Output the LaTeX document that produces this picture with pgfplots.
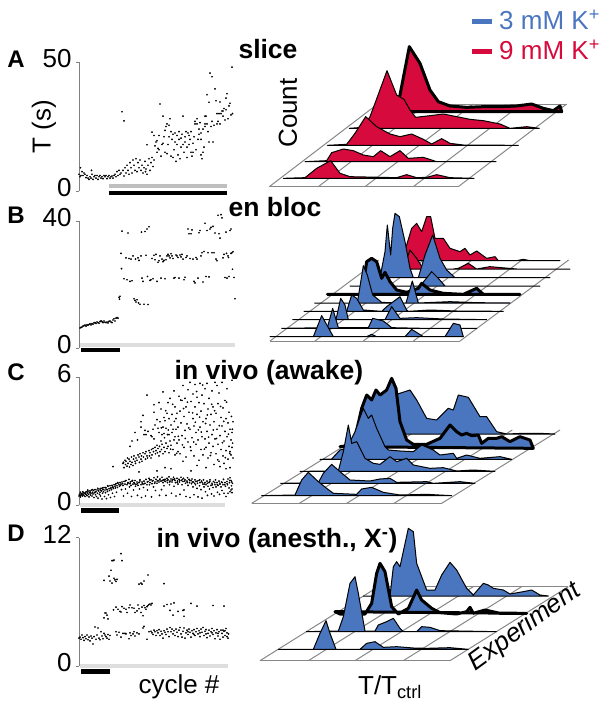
\documentclass[border=0pt]{standalone}
\usepackage{fontspec}
\setmainfont{Liberation Sans}
\usepackage{pgfplots}
\pgfplotsset{compat=1.18}
\definecolor{blu}{RGB}{73,118,190}
\definecolor{rd}{RGB}{214,10,60}
\definecolor{gridc}{RGB}{135,135,135}
\newcommand{\lab}{\fontsize{26}{26}\selectfont}
\newcommand{\ttl}{\fontsize{26.5}{26.5}\selectfont\bfseries}
\pgfplotsset{
  panel/.style={scale only axis, width=155pt, xmin=0, xmax=155, clip=false,
    axis y line*=left, axis x line=none, axis line style={gray, line width=0.8pt},
    tick style={gray, line width=0.6pt}, major tick length=3pt, tick align=outside,
    /pgf/number format/assume math mode=true,
    yticklabel style={font=\lab, yshift=3.5pt, xshift=-1pt}},
  dots/.style={only marks, mark=*, mark size=0.65pt, black, mark options={draw=none, fill=black!85}},
  gbar/.style={line width=4pt, black!13},
  kbar/.style={line width=4.5pt, black},
  ridge/.style={scale only axis, hide axis, clip=false, y dir=reverse, ymin=0, xmin=0},
  gl/.style={gridc, line width=1pt},
  rb/.style={fill=blu, draw=black, line width=1pt, line join=round},
  rr/.style={fill=rd, draw=black, line width=1pt, line join=round},
  bb/.style={fill=blu, draw=black, line width=3pt, line join=round},
  br/.style={fill=rd, draw=black, line width=3pt, line join=round},
}
\begin{document}
\begin{tikzpicture}
\path[use as bounding box] (0,0) rectangle (614pt,713pt);

% ---- scatter panels
\begin{axis}[panel, at={(79pt,522pt)}, height=129pt, ymin=0, ymax=50, ytick={0,50}]
\addplot[dots] coordinates {(0,6.5)(1,5.5)(1.5,9)(2,6)(3,7.5)(4,6)(5,7)(6,6.5)(7,5.2)(8,6)(9,5)(10,4.5)(11,5.5)(12,5)(12.5,8)(13,6.5)(14,4.5)(15,5.5)(16,6)(17,5)(18,6)(19,4.5)(20,5.5)(21,6)(22,5)(23,5.5)(24,4.8)(25,6)(26,5.5)(27,6)(28,4.8)(29,5.5)(30,6)(31,5)(32,5.5)(33,5.8)(34,5)(35,6)(36,6.5)(37,5.5)(38,7.5)(39,6)(40,8)(41,6.5)(42,7)(43,30.7)(45,27.2)(44,8)(45,5.8)(46,9)(47,7)(48,10)(49,8)(50,6.5)(51,11)(52,9)(53,7)(54,12)(55,10)(56,8)(57,12.5)(58,7.5)(59,11)(60,9)(61,12)(62,8)(63,10)(64,7)(65,9)(66,11.5)(66.5,7.5)(67,8.5)(68,6.5)(69,10)(70,12.5)(71,8)(72,11)(73,13)(74,9.5)(75,12)
(68,17.9)(73,22.8)(75,21.5)(76,17.5)(77,19)(78,15)(79,16.5)(80,21.5)(81,33.7)(82,13.5)(83,18)(84,29)(85,21)(86,15)(87,25)(88,14.5)(89,18)(90,25.5)(91,28)(92,13.5)(93,20)(94,13)(95,16)(96,19)(97,11.5)(98,21.5)(99,14)(100,20)(101,12.5)(102,17)(103,22)(104,29)(105,15)(106,19)(107,23)(108,13)(109,22.5)(110,18)(111,20)(112,15)(113,13.5)(114,18.5)(115,21)(116,27)(117,16)(118,28)(119,20)(120,22)(121,26.5)(122,20)(123,12.5)(124,15)(125,17)(126,25)(127,29)(128,37.3)(129,23)(130,34.4)(131,45.7)(133,44.3)
(78,19.5)(80,16)(84,18.5)(86,23.5)(88,26)(90,21)(92,23)(94,22)(96,22.5)(98,18)(100,23)(102,20.5)(104,18)(106,21)(108,17)(110,21.5)(112,23)(114,15)(116,26)(118,26)(120,24)(122,14)(124,24)(126,29)(128,26)(130,19)(132,25)(134,19)(135,25.5)(136,39.6)(137,35)(138,26)(139,27)(140,30)(141,34.5)(142,30)(143,31)(144,29)(145,32)(146,27.5)(147,36)(148,37.7)(149,28)(150,33)(151,34)(152,29.5)(153,48)(153.5,30)(147,31.5)(144,31)(141,26)(138,30)(133,27)(126,26)(122,22.5)};
\addplot[line width=4pt, black!25, forget plot] coordinates {(30,1.9)(148,1.9)};
\addplot[kbar, forget plot] coordinates {(30,-0.8)(148,-0.8)};
\end{axis}

\begin{axis}[panel, at={(79pt,365pt)}, height=127pt, ymin=0, ymax=40, ytick={0,40}]
\addplot[dots] coordinates {(1,6.3)(2,6.5)(3,6.6)(4,6.9)(5,7)(6,7.2)(7,6.9)(8,7.3)(9,7.2)(10,7.4)(11,7.6)(12,7.3)(13,7.7)(14,7.5)(15,7.9)(16,8)(17,7.7)(18,8.2)(19,8)(20,7.8)(21,8.3)(22,8.6)(23,8.3)(24,8)(25,8.5)(26,8.1)(27,8)(28,8.2)(29,7.9)(30,8.4)(31,8.5)(32,8.2)(33,8)(34,8.8)(35,9.2)(36,8.5)(37,9.4)(38,9.6)(39,9.4)
(40,16)(40.5,15.4)(41,16.3)(42,29.8)(42.5,25)(43,36.8)(45,21.8)(47,28.4)(48,21.5)(49,36.2)(50,28.2)(51,21)(52,28)(53,21.2)(54,29)(55,15.5)(56,15)(56.5,28)(57,14.5)(58,15.2)(59,28.4)(59.5,14.2)(60,27.6)(61,13.8)(62,29)(62.5,36.5)(63,22)(64,21)(65,13.8)(66,36.7)(67,29.2)(68,37.5)(68.5,22.5)(69,13.7)(70,38.2)(71,21.3)(72,21.5)(73,28.2)(74,21.8)(75,29.2)(76,27.8)(77,29.5)(78,21)(79,27)(80,27.5)(81,29)(82,22)(83,28)(84,27.2)(85,27.6)(86,21.8)(87,27.8)(88,29)(89,29.5)(90,29)(91,28.4)(92,29.7)(93,29)(94,28.2)(95,22)(96,22.2)(97,29.3)(98,29)(99,28.5)(100,22)(101,29.3)(102,28.7)(103,29.5)(104,28)(105,21.5)(106,22.3)(107,28.5)(108,29)(109,37.5)(110,36)(111,28.2)(112,36)(113,37.2)(114,28)(115,21)(116,20.5)(117,28.5)(118,28)(119,22)(120,36.3)(121,37)(122,29)(123,30)(124,20.8)(125,30.4)(126,39.3)(127,22.5)(128,37)(129,30)(130,22.4)(131,37.5)(132,38)(133,30)(134,38.3)(135,30)(136,36.2)(137,28)(138,27.5)(139,41.8)(140,36)(141,34.6)(142,42)(143,41)(144,28.4)(145,29.5)(146,22.2)(147,36.5)(148,22)(149,29)(150,22.5)(151,37)(152,37.5)(153,30)(154,30.3)(155,22.2)(153.5,24.8)(156,15.5)(147.5,29.8)(149.5,28.5)(152,29.8)};
\addplot[gbar, forget plot] coordinates {(1,0.8)(155.7,0.8)};
\addplot[kbar, forget plot] coordinates {(1.7,-0.7)(40.7,-0.7)};
\end{axis}

\begin{axis}[panel, at={(79pt,208pt)}, height=128pt, ymin=0, ymax=6, ytick={0,6}]
% lower band
\addplot[dots] coordinates {(0,0.42)(0.5,0.5)(1,0.45)(1.5,0.38)(2,0.52)(2.5,0.47)(3,0.55)(3.5,0.42)(4,0.5)(4.5,0.58)(5,0.46)(5.5,0.55)(6,0.4)(6.5,0.6)(7,0.5)(7.5,0.62)(8,0.44)(8.5,0.56)(9,0.65)(9.5,0.5)(10,0.38)(10.5,0.58)(11,0.66)(11.5,0.47)(12,0.55)(12.5,0.7)(13,0.42)(13.5,0.6)(14,0.52)(14.5,0.68)(15,0.35)(15.5,0.58)(16,0.72)(16.5,0.48)(17,0.62)(17.5,0.4)(18,0.7)(18.5,0.55)(19,0.32)(19.5,0.66)(20,0.75)(20.5,0.5)(21,0.6)(21.5,0.42)(22,0.78)(22.5,0.66)(23,0.28)(23.5,0.55)(24,0.72)(24.5,0.62)(25,0.82)(25.5,0.4)(26,0.7)(26.5,0.58)(27,0.8)(27.5,0.3)(28,0.72)(28.5,0.64)(29,0.88)(29.5,0.48)(30,0.76)(30.5,0.68)(31,0.9)(31.5,0.35)(32,0.8)(32.5,0.72)(33,0.92)(33.5,0.55)(34,0.82)(34.5,0.78)(35,0.95)(35.5,0.4)(36,0.88)(36.5,0.8)(37,1.0)(37.5,0.6)(38,0.9)(38.5,0.82)(39,1.02)(40,0.95)(40.5,0.88)(41,1.05)(42,0.98)(42.5,0.72)(43,1.08)(44,0.92)(44.5,0.42)(45,1.1)(46,0.98)(46.5,0.75)(47,1.15)(48,0.95)(48.5,0.55)(49,1.05)(50,1.2)(50.5,0.85)(51,1.0)(52,0.92)(52.5,0.4)(53,1.12)(54,0.98)(54.5,0.7)(55,1.05)(56,1.15)(56.5,0.88)(57,0.96)(58,1.08)(58.5,0.45)(59,0.92)(60,1.05)(60.5,0.75)(61,1.18)(62,0.95)(62.5,0.35)(63,1.08)(64,0.98)(64.5,0.82)(65,1.12)(66,1.02)(66.5,0.42)(67,1.2)(68,0.95)(68.5,0.7)(69,1.1)(70,1.25)(70.5,0.95)(71,1.05)(72,1.18)(72.5,0.38)(73,1.0)(74,1.15)(74.5,0.85)(75,1.28)(76,1.08)(76.5,0.68)(77,1.2)(78,1.02)(78.5,1.32)(79,1.15)(80,1.08)(80.5,0.45)(81,1.22)(82,1.12)(82.5,0.72)(83,1.3)(84,1.05)(84.5,1.18)(85,0.9)(86,1.2)(86.5,1.1)(87,0.45)(88,1.25)(88.5,1.05)(89,1.18)(90,1.32)(90.5,0.95)(91,1.12)(92,1.22)(92.5,0.55)(93,1.08)(94,1.2)(94.5,1.3)(95,0.88)(96,1.15)(96.5,1.05)(97,0.42)(98,1.25)(98.5,1.12)(99,0.98)(100,1.2)(100.5,1.08)(101,0.5)(102,1.3)(102.5,1.15)(103,0.95)(104,1.1)(104.5,1.25)(105,0.7)(106,1.18)(106.5,1.02)(107,0.4)(108,1.12)(108.5,1.28)(109,0.92)(110,1.2)(110.5,1.05)(111,0.35)(112,1.15)(112.5,1.0)(113,1.22)(114,0.85)(114.5,1.08)(115,0.48)(116,1.18)(116.5,0.95)(117,1.1)(118,0.78)(118.5,1.02)(119,0.38)(120,1.15)(120.5,0.9)(121,1.05)(122,0.72)(122.5,1.12)(123,0.32)(124,0.98)(124.5,1.18)(125,0.85)(126,1.05)(126.5,0.62)(127,0.95)(128,1.12)(128.5,0.45)(129,0.88)(130,1.05)(130.5,0.75)(131,1.18)(132,0.92)(132.5,0.52)(133,1.02)(134,0.82)(134.5,1.1)(135,0.42)(136,0.95)(136.5,1.18)(137,0.85)(138,1.05)(138.5,0.6)(139,0.92)(140,1.12)(140.5,0.5)(141,0.98)(142,0.85)(142.5,1.08)(143,0.68)(144,0.95)(144.5,1.2)(145,0.55)(146,1.05)(146.5,0.88)(147,0.4)(148,1.1)(148.5,0.95)(149,1.22)(150,0.8)(150.5,1.05)(151,0.62)(152,1.15)(152.5,0.9)(153,0.75)(153.5,1.02)(153,0.58)(152,0.7)(151,1.28)(149,0.55)
(1.3,0.6)(3.8,0.62)(6.2,0.55)(8.7,0.7)(11.3,0.6)(13.6,0.72)(16.2,0.6)(18.8,0.78)(21.3,0.7)(23.7,0.8)(26.2,0.82)(28.7,0.9)(31.2,0.78)(33.7,0.85)(36.2,0.95)(38.7,1.05)(41.4,0.92)(43.6,1.0)(46.2,1.12)(48.8,1.0)(51.3,1.08)(53.6,1.15)(55.7,1.0)(58.3,1.0)(60.8,1.12)(63.4,1.02)(65.6,1.0)(68.3,1.08)(70.7,1.18)(73.4,1.12)(75.6,1.02)(78.2,1.12)(80.8,1.18)(83.3,1.15)(85.7,1.12)(88.2,1.15)(90.7,1.08)(93.3,1.15)(95.6,1.22)(98.2,1.05)(100.8,1.15)(103.3,1.2)(105.7,1.12)(108.3,1.05)(110.8,1.15)(113.3,1.08)(115.7,1.02)(118.2,1.12)(120.7,1.18)(123.3,1.05)(125.6,0.98)(128.2,1.02)(130.8,1.1)(133.3,0.95)(135.7,1.05)(138.2,0.95)(140.8,1.02)(143.3,1.05)(145.7,0.95)(148.2,1.0)(150.8,1.15)(152.7,1.08)};
% upper cloud
\addplot[dots] coordinates {(34,1.8)(44,1.95)(44.5,2.0)(45,1.75)(46,2.1)(46.5,1.9)(47,2.05)(48,1.82)(48.5,2.2)(49,1.95)(50,2.15)(50.5,1.78)(51,2.05)(52,1.9)(52.5,2.25)(53,2.0)(54,1.85)(54.5,2.15)(55,2.3)(56,2.05)(56.5,1.95)(57,2.2)(58,2.1)(58.5,3.05)(59,2.35)(60,2.25)(60.5,2.0)(61,2.4)(62,2.15)(62.5,2.3)(63,2.05)(64,2.45)(64.5,2.25)(65,3.3)(66,2.4)(66.5,2.15)(67,2.5)(68,2.3)(68.5,2.2)(69,3.45)(70,2.55)(70.5,2.3)(71,2.45)(72,2.2)(72.5,2.6)(73,2.35)(74,2.65)(74.5,2.5)(75,3.1)(76,2.7)(76.5,2.4)(77,2.55)(78,2.8)(78.5,2.45)(79,2.65)(80,2.3)(80.5,2.75)(81,2.5)(82,3.0)(82.5,2.6)(83,2.85)(84,2.4)(85,2.7)(85.5,3.15)(86,2.5)(87,2.9)(88,2.65)(88.5,3.3)(89,2.75)(90,2.45)(91,3.0)(92,2.8)(93,3.4)(94,2.6)(95,3.05)(96,2.35)(97,3.55)(98,2.9)(99,2.5)
(53,3.0)(51,2.75)(56,3.4)(62,3.9)(62,3.65)(64,4.2)(67,3.3)(68,5.15)(66,3.5)(72,3.25)(74,3.55)(75,4.35)(76,3.75)(75,4.7)(73,3.2)(78,4.0)(79,3.6)(80,3.4)(80,4.8)(81,3.9)(82,4.5)(83,3.3)(84,3.65)(84,5.3)(85,4.1)(85,3.35)(86,3.95)(87,3.6)(88,4.3)(89,4.8)(90,3.3)(90,4.05)(91,5.0)(92,3.75)(93,4.25)(94,3.55)(95,5.35)(96,4.6)(96,3.2)(97,4.05)(98,4.3)(99,3.65)(100,5.1)(100,3.05)(101,4.4)(101,2.4)(102,3.85)(103,4.9)(103,3.25)(104,5.6)(105,4.15)(105,2.7)(106,3.5)(106,5.0)(107,4.6)(107,2.25)(108,3.8)(109,5.4)(109,2.95)(110,4.35)(111,5.75)(111,3.55)(112,4.85)(112,2.55)(113,3.15)(114,5.2)(114,4.05)(115,3.7)(115,2.3)(116,4.6)(116,5.65)(117,3.4)(117,2.85)(118,5.05)(118,4.25)(119,3.05)(120,4.8)(120,2.1)(121,3.65)(121,5.7)(122,2.6)(122,4.4)(123,5.15)(123,3.2)(124,3.9)(124,2.35)(125,4.75)(126,3.1)(126,5.45)(127,4.05)(127,2.7)(128,5.7)(128,3.45)(129,4.5)(129,2.2)(130,2.9)(130,5.0)(131,3.75)(132,4.25)(132,2.45)(133,3.3)(133,5.35)(134,2.75)(134,4.6)(135,1.9)(135,3.9)(136,5.75)(136,3.1)(137,2.4)(137,4.3)(138,5.6)(138,3.55)(139,2.85)(139,4.75)(140,2.05)(140,5.25)(141,3.25)(141,1.8)(142,4.1)(142,2.6)(143,5.75)(143,3.7)(144,2.3)(144,4.55)(145,3.0)(145,1.95)(146,3.45)(146,4.9)(147,2.55)(147,4.05)(148,3.2)(148,5.45)(149,2.15)(149,3.85)(150,2.75)(150,4.35)(151,3.55)(151,1.75)(152,2.35)(152,3.05)(153,2.7)(153,5.85)(154,3.9)(154,2.2)(153,3.4)(151,2.5)(147,1.7)(127,1.75)(118,1.85)(104,2.05)(92,1.7)(86,1.75)(60,1.55)(78,1.6)(112,1.6)
(82.4,3.62)(86.7,4.42)(89.3,3.52)(91.6,2.62)(93.7,4.72)(95.4,3.92)(97.6,2.42)(99.3,3.22)(101.7,4.92)(103.4,2.82)(104.6,4.52)(106.3,3.12)(108.4,4.82)(109.7,3.62)(111.4,2.72)(113.6,4.32)(114.7,2.95)(116.3,3.88)(117.6,5.32)(119.4,3.52)(120.6,4.12)(122.3,3.42)(123.7,5.62)(125.4,2.62)(126.6,3.82)(128.3,4.22)(129.6,3.18)(131.4,2.32)(132.7,4.72)(134.3,3.52)(135.6,4.42)(137.4,3.12)(138.7,2.12)(140.3,3.72)(141.6,4.62)(143.4,2.92)(144.7,3.92)(146.3,2.22)(147.6,4.82)(149.4,3.32)(150.7,2.42)(152.4,4.15)(153.6,2.9)(153.4,3.55)};
\addplot[gbar, forget plot] coordinates {(0.7,0)(146,0)};
\addplot[kbar, forget plot] coordinates {(1.7,-0.26)(40,-0.26)};
\end{axis}

\begin{axis}[panel, at={(79pt,47pt)}, height=128.4pt, ymin=0, ymax=12, ytick={0,12}]
\addplot[dots] coordinates {(0,2.6)(1,2.7)(2,2.5)(3,2.9)(4,2.65)(5,2.4)(6,2.75)(7,2.55)(8,2.9)(9,2.45)(10,2.7)(11,2.35)(12,2.8)(13,2.6)(14,2.05)(15,2.75)(16,3.65)(17,2.5)(18,2.9)(19,3.55)(20,2.6)(21,2.45)(22,3.2)(23,2.8)(24,2.55)(25,3.05)(26,2.9)(27,2.75)(28,2.6)(29,2.95)(30,2.5)(31,2.85)(25,4.5)(26,4.95)(27,4.95)(28,4.75)(29,4.4)(25,8.0)(31,7.95)(30,8.4)(33,7.75)(32,8.95)(34,9.85)(35,8.2)(36,8.05)(37,7.9)(38,8.1)(33,9.85)(35,9.9)(34.5,5.25)(37,5.5)(39,5.3)(41,5.1)(42,5.05)(43,5.55)(45,5.4)(47,5.3)(48,5.0)(50,5.45)(51,5.7)(53,5.45)(55,5.4)(56,5.0)(58,5.15)(59,5.7)(60,5.35)(62,5.0)(64,4.7)(63,5.5)(65,5.65)(66,5.45)(67,5.3)(68,5.55)(69,5.65)(70,5.75)(71,5.8)(72,5.7)(73,5.85)(63,7.65)(60,7.65)(62,7.75)(65,7.95)(69,8.5)(85,7.7)(85,5.6)(88,5.75)(91,5.2)(92,5.8)(94,4.75)(95,5.9)(99,5.1)(104,5.2)(105,4.65)(105,5.25)(112,5.85)(118,5.6)(134,5.65)(145,5.6)(42,10.5)(43,9.85)
(38,2.9)(37,3.2)(40,3.15)(42,2.7)(44,3.05)(46,3.05)(47,3.0)(50,2.55)(51,3.1)(52,2.85)(54,3.0)(55,3.2)(56,2.8)(58,3.1)(60,3.0)(64,3.55)(65,3.7)(68,2.5)(70,3.2)(72,3.25)(73,3.1)(74,2.95)(75,3.35)(76,3.2)(77,2.85)(78,3.3)(79,3.1)(80,3.4)(81,2.85)(82,3.25)(83,3.0)(84,2.6)(85,3.3)(86,3.15)(87,2.95)(88,3.45)(89,3.2)(90,2.75)(91,3.6)(92,3.2)(93,3.45)(94,3.0)(95,3.3)(96,2.85)(97,3.45)(98,3.15)(99,2.75)(100,3.35)(101,3.6)(102,3.0)(103,2.7)(104,3.25)(105,3.55)(106,2.6)(107,3.1)(108,3.35)(109,2.95)(110,3.45)(111,3.15)(112,2.7)(113,3.3)(114,3.05)(115,3.4)(116,2.85)(117,3.2)(118,3.5)(119,3.0)(120,3.3)(121,2.75)(122,3.45)(123,3.15)(124,3.6)(125,2.85)(126,3.25)(127,3.4)(128,2.65)(129,3.05)(130,3.35)(131,2.8)(132,3.2)(133,3.5)(134,2.95)(135,3.3)(136,2.55)(137,3.1)(138,3.4)(139,2.8)(140,3.2)(141,2.5)(142,3.35)(143,3.05)(144,2.7)(145,3.25)(146,2.85)(147,3.5)(148,3.1)(149,2.6)(149.5,3.0)(148,2.75)(146,3.3)(144,3.35)(139,3.05)(133,3.1)(127,3.0)(121,3.1)(115,2.95)(109,3.2)};
\addplot[gbar, forget plot] coordinates {(0.7,0)(149,0)};
\addplot[kbar, forget plot] coordinates {(1.7,-0.5)(30.7,-0.5)};
\end{axis}

% ---- ridge panels, in the crop's own units (3 per pixel)
\begin{axis}[ridge, at={(250pt,513pt)}, width=364pt, height=200pt, xmax=1092, ymax=600]
\addplot[blu, line width=5pt] coordinates {(665,65)(725,65)};
\addplot[rd, line width=5pt] coordinates {(665,155)(725,155)};
\addplot[gl] coordinates {(58,560)(625,560)};
\addplot[gl] coordinates {(58,560)(383,312)};
\addplot[gl] coordinates {(205,560)(530,312)};
\addplot[gl] coordinates {(345,560)(670,312)};
\addplot[gl] coordinates {(490,560)(815,312)};
\addplot[gl] coordinates {(625,560)(950,312)};
\addplot[gl] coordinates {(383,312)(950,312)};
\addplot[br] coordinates {(420,335)(440,320)(450,285)(478,140)(510,190)(540,270)(565,305)(600,318)(650,322)(700,320)(750,320)(800,318)(845,312)(880,325)(910,332)(930,318)(935,335)} --cycle;
\addplot[rr] coordinates {(298,385)(340,382)(360,350)(375,310)(411,212)(440,285)(462,298)(480,330)(497,352)(540,347)(580,342)(620,350)(660,358)(700,362)(750,372)(780,385)(830,380)(868,385)} --cycle;
\addplot[rr] coordinates {(232,436)(290,433)(315,400)(347,350)(380,380)(420,402)(450,410)(485,402)(520,418)(545,432)(575,416)(600,430)(640,435)(805,436)} --cycle;
\addplot[rr] coordinates {(165,485)(230,482)(245,458)(280,447)(310,452)(340,465)(370,470)(392,452)(420,470)(450,452)(475,475)(520,472)(560,485)(738,485)} --cycle;
\addplot[rr] coordinates {(100,535)(165,533)(200,505)(242,482)(270,520)(300,530)(440,533)(470,524)(500,533)(530,532)(560,524)(600,533)(672,535)} --cycle;
\end{axis}

\begin{axis}[ridge, at={(250pt,348pt)}, width=300pt, height=170pt, xmax=900, ymax=510]
\addplot[gl] coordinates {(60,438)(630,438)};
\addplot[gl] coordinates {(60,438)(386,195)};
\addplot[gl] coordinates {(195,438)(521,195)};
\addplot[gl] coordinates {(340,438)(666,195)};
\addplot[gl] coordinates {(490,438)(816,195)};
\addplot[gl] coordinates {(630,438)(956,195)};
\addplot[rr] coordinates {(460,197)(470,150)(485,100)(500,85)(515,110)(530,65)(542,65)(555,130)(580,130)(600,160)(630,170)(645,160)(660,180)(680,168)(710,190)(735,185)(745,197)(800,197)(820,193)(840,197)(930,197)} --cycle;
\addplot[rr] coordinates {(440,222)(460,222)(480,165)(500,190)(520,222)(610,222)(625,220)(655,205)(680,222)(720,215)(800,222)(960,222)} --cycle;
\addplot[rb] coordinates {(390,248)(405,170)(412,90)(422,180)(428,100)(435,55)(448,65)(465,140)(480,220)(490,248)(505,248)(525,180)(548,120)(570,190)(590,225)(615,248)(900,248)} --cycle;
\addplot[rb] coordinates {(300,273)(510,273)(525,255)(545,230)(565,250)(585,273)(870,273)} --cycle;
\addplot[bb] coordinates {(232,298)(335,298)(350,200)(365,190)(380,200)(395,250)(405,232)(420,260)(440,285)(470,292)(505,280)(515,265)(540,285)(580,295)(640,298)(680,280)(700,298)(810,298)} --cycle;
\addplot[rb] coordinates {(194,324)(322,324)(340,212)(352,240)(368,300)(395,322)(440,324)(468,324)(487,258)(505,324)(600,320)(680,323)(780,324)} --cycle;
\addplot[rb] coordinates {(162,349)(290,349)(305,300)(320,310)(340,345)(395,349)(410,335)(450,305)(470,345)(475,349)(540,345)(620,348)(760,349)} --cycle;
\addplot[rb] coordinates {(128,374)(258,374)(272,310)(285,330)(295,374)(405,374)(425,335)(450,370)(500,368)(580,372)(710,374)} --cycle;
\addplot[rb] coordinates {(95,400)(232,398)(248,340)(265,398)(355,398)(368,370)(400,378)(425,398)(520,400)(680,400)} --cycle;
\addplot[rb] coordinates {(60,425)(190,425)(215,362)(250,425)(350,425)(365,418)(380,425)(465,425)(485,403)(520,425)(585,425)(610,385)(630,390)(640,425)} --cycle;
\end{axis}

\begin{axis}[ridge, at={(240pt,188pt)}, width=320pt, height=160pt, xmax=960, ymax=480]
\addplot[gl] coordinates {(35,415)(605,415)};
\addplot[gl] coordinates {(35,415)(390,195)};
\addplot[gl] coordinates {(178,415)(533,195)};
\addplot[gl] coordinates {(320,415)(675,195)};
\addplot[gl] coordinates {(462,415)(817,195)};
\addplot[gl] coordinates {(605,415)(960,195)};
\addplot[rb] coordinates {(365,207)(440,205)(460,100)(470,88)(510,75)(530,105)(560,160)(590,165)(625,130)(640,135)(655,90)(685,97)(720,155)(740,155)(770,200)(800,207)(850,205)(900,205)(945,207)} --cycle;
\addplot[bb] coordinates {(300,245)(340,240)(365,130)(380,90)(395,105)(408,75)(420,90)(440,75)(455,40)(468,70)(480,170)(500,225)(520,238)(560,238)(600,220)(630,180)(650,200)(665,210)(680,205)(695,212)(715,210)(725,235)(745,220)(770,220)(785,215)(810,230)(840,215)(870,225)(880,250)} --cycle;
\addplot[rb] coordinates {(240,283)(275,282)(300,255)(320,250)(345,200)(370,130)(385,160)(395,150)(410,190)(435,245)(445,255)(480,258)(520,260)(545,240)(580,255)(600,270)(640,265)(650,280)(680,270)(720,280)(780,275)(815,283)} --cycle;
\addplot[rb] coordinates {(180,319)(295,318)(310,260)(325,180)(335,235)(350,230)(375,280)(400,295)(420,298)(450,275)(470,290)(500,280)(520,300)(570,310)(610,308)(650,318)(700,315)(765,319)} --cycle;
\addplot[rb] coordinates {(122,355)(235,353)(250,325)(275,298)(300,320)(330,345)(390,348)(420,342)(450,340)(470,352)(560,350)(580,355)(660,350)(705,355)} --cycle;
\addplot[rb] coordinates {(65,392)(165,390)(185,345)(205,322)(235,350)(260,370)(280,385)(350,388)(365,372)(395,367)(430,382)(480,390)(560,388)(635,392)} --cycle;
\end{axis}

\begin{axis}[ridge, at={(240pt,0pt)}, width=374pt, height=193pt, xmax=1122, ymax=579]
\addplot[gl] coordinates {(60,422)(630,422)};
\addplot[gl] coordinates {(60,422)(415,200)};
\addplot[gl] coordinates {(205,422)(560,200)};
\addplot[gl] coordinates {(345,422)(700,200)};
\addplot[gl] coordinates {(490,422)(845,200)};
\addplot[gl] coordinates {(630,422)(985,200)};
\addplot[gl] coordinates {(415,200)(985,200)};
\addplot[rb] coordinates {(370,228)(450,228)(460,140)(470,125)(480,140)(505,25)(520,35)(530,130)(560,210)(585,210)(605,165)(630,127)(650,150)(680,205)(700,225)(730,190)(745,195)(760,205)(790,210)(810,222)(850,215)(875,210)(900,225)(925,228)} --cycle;
\addplot[bb] coordinates {(285,275)(300,282)(375,282)(395,250)(410,160)(420,130)(435,155)(455,260)(475,282)(505,265)(530,210)(545,240)(575,265)(600,278)(650,282)(680,275)(690,262)(700,280)(735,270)(780,280)(860,280)} --cycle;
\addplot[rb] coordinates {(199,335)(295,333)(310,290)(330,190)(345,170)(355,220)(375,333)(405,333)(415,315)(440,305)(460,295)(480,325)(490,335)(530,335)(545,320)(570,322)(600,332)(769,335)} --cycle;
\addplot[rb] coordinates {(115,388)(220,388)(240,340)(258,302)(270,340)(288,388)(360,388)(380,370)(405,365)(430,382)(470,380)(520,384)(560,385)(630,383)(685,388)} --cycle;
\end{axis}

% ---- text, in image pixels
\begin{scope}[x=1pt,y=-1pt,yshift=713pt,font=\lab]
\node[font=\fontsize{24}{24}\selectfont\bfseries] at (16,59) {A};
\node[font=\fontsize{24}{24}\selectfont\bfseries] at (16,215) {B};
\node[font=\fontsize{24}{24}\selectfont\bfseries] at (16,372) {C};
\node[font=\fontsize{24}{24}\selectfont\bfseries] at (16,533) {D};
\node[rotate=90] at (44,127) {T (s)};
\node[font=\ttl] at (268,49) {slice};
\node[font=\ttl] at (275,207) {en bloc};
\node[font=\ttl] at (269,373) {in vivo (awake)};
\node[font=\ttl] at (277,541) {in vivo (anesth., X\textsuperscript{-})};
\node[rotate=90] at (288,113) {Count};
\node at (179,687) {cycle \#};
\node at (390,687) {T/T\textsubscript{ctrl}};
\node[rotate=36,font=\lab\itshape] at (525,627) {Experiment};
\node[anchor=west,text=blu,inner sep=0pt] at (499,20) {3 mM K\textsuperscript{+}};
\node[anchor=west,text=rd,inner sep=0pt] at (499,50) {9 mM K\textsuperscript{+}};
\end{scope}
\end{tikzpicture}
\end{document}
